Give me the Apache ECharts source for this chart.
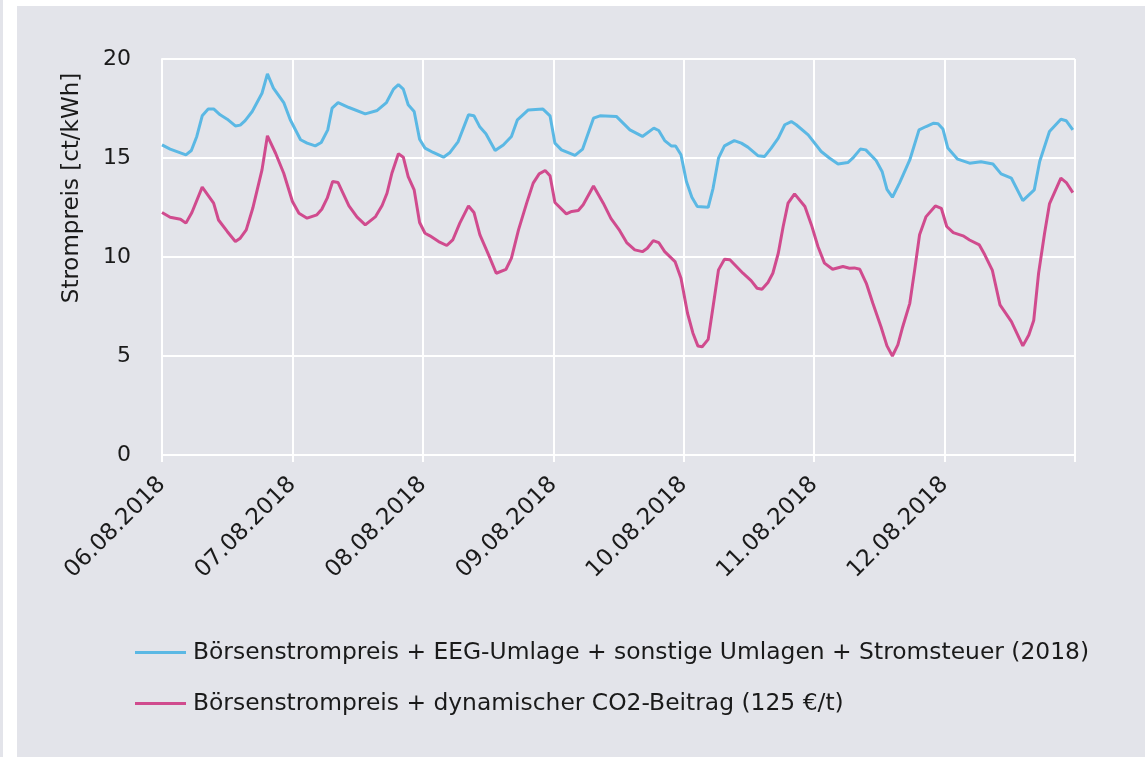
<!DOCTYPE html>
<html>
<head>
<meta charset="utf-8">
<script src="https://cdn.jsdelivr.net/npm/echarts@6/dist/echarts.min.js"></script>
<style>
html,body{margin:0;padding:0;background:#e3e4ea;}
#chart{width:1145px;height:757px;}
</style>
</head>
<body>
<div id="chart"></div>
<script>
// x-axis tick labels (one per day, hours from 06.08.2018 00:00)
const dayLabels = ['06.08.2018','07.08.2018','08.08.2018','09.08.2018','10.08.2018','11.08.2018','12.08.2018'];
const yTicks = [0, 5, 10, 15, 20];
const yAxisTitle = 'Strompreis [ct/kWh]';
const seriesNames = [
  'Börsenstrompreis + EEG-Umlage + sonstige Umlagen + Stromsteuer (2018)',
  'Börsenstrompreis + dynamischer CO2-Beitrag (125 €/t)'
];

// Series 1 (blue): hours since start, price ct/kWh
const blueHours = [0,1.5,4.4,5.4,6.4,7.4,8.5,9.5,10.7,12,13.5,14.4,15.3,16.6,18.4,19.4,20.5,22.4,23.6,25.5,26.7,28.2,29.3,30.5,31.3,32.4,34.4,37.4,39.6,41.3,42.6,43.5,44.4,45.3,46.4,47.4,48.4,49.9,51.8,53,54.5,56.4,57.4,58.5,59.6,61.3,62.8,64.3,65.4,67.4,70.1,71.4,72.3,73.5,76,77.4,79.4,80.6,83.6,86.1,88.4,90.5,91.4,92.5,93.7,94.5,95.5,96.5,97.5,98.5,100.5,101.4,102.4,103.5,105.3,106.6,107.8,109.7,110.9,112.1,113.4,114.6,115.8,116.7,118.9,121.3,122.8,124.4,126.2,127.1,128.5,129.5,131.4,132.5,133.4,134.4,135.7,137.6,139.3,140.6,142,142.8,143.7,144.6,146.4,148.6,150.7,152.9,154.4,156.3,158.4,160.5,161.5,163.3,165.4,166.4,167.6];
const blueValues = [15.66,15.45,15.16,15.38,16.09,17.13,17.47,17.48,17.18,16.96,16.62,16.66,16.89,17.35,18.27,19.25,18.53,17.8,16.93,15.92,15.75,15.61,15.78,16.42,17.52,17.8,17.55,17.23,17.4,17.8,18.48,18.7,18.48,17.69,17.35,15.95,15.5,15.28,15.04,15.28,15.83,17.18,17.13,16.56,16.22,15.38,15.66,16.09,16.93,17.43,17.47,17.13,15.75,15.41,15.13,15.45,17.01,17.13,17.1,16.42,16.09,16.51,16.39,15.88,15.61,15.61,15.16,13.81,13.02,12.55,12.51,13.47,14.99,15.61,15.88,15.75,15.55,15.11,15.08,15.5,16.0,16.68,16.84,16.68,16.17,15.33,15.0,14.7,14.77,14.99,15.45,15.41,14.87,14.32,13.42,13.02,13.73,14.9,16.42,16.59,16.76,16.73,16.46,15.5,14.94,14.74,14.81,14.7,14.2,13.98,12.85,13.39,14.82,16.34,16.96,16.88,16.42];

// Series 2 (magenta)
const pinkHours = [0,1.5,3.4,4.4,5.5,7.4,9.5,10.4,12,13.5,14.4,15.5,16.7,18.4,19.4,20.9,22.4,24,25.2,26.7,28.5,29.4,30.4,31.4,32.4,34.4,35.9,37.4,39.3,40.5,41.4,42.3,43.5,44.4,45.3,46.4,47.4,48.4,49.3,50.9,52.4,53.5,54.8,56.4,57.4,58.5,60.1,61.5,63.3,64.3,65.6,67.1,68.3,69.4,70.5,71.4,72.3,74.4,75.4,76.6,77.5,79.4,81.2,82.6,84.2,85.5,87,88.4,89.3,90.4,91.4,92.5,94.4,95.5,96.7,97.7,98.6,99.4,100.5,101.4,102.4,103.5,104.5,105.7,106.9,108.4,109.5,110.4,111.5,112.4,113.4,114.3,115.2,116.4,118.3,119.5,120.7,121.9,123.4,125.3,126.5,127.4,128.4,129.6,130.8,132.3,133.4,134.4,135.4,136.3,137.6,138.5,139.4,140.6,142.3,143.4,144.4,145.6,147.4,148.6,150.4,151.4,152.8,154.2,156.3,158.4,159.5,160.4,161.3,162.4,163.3,165.4,166.4,167.6];
const pinkValues = [12.25,12.01,11.91,11.71,12.25,13.53,12.72,11.87,11.29,10.78,10.95,11.37,12.46,14.4,16.12,15.24,14.23,12.8,12.21,11.96,12.13,12.41,12.97,13.81,13.76,12.58,12.01,11.62,12.04,12.6,13.22,14.23,15.21,15.04,14.06,13.39,11.74,11.2,11.07,10.78,10.58,10.86,11.71,12.58,12.25,11.12,10.11,9.18,9.38,9.94,11.37,12.72,13.73,14.2,14.37,14.1,12.75,12.18,12.3,12.35,12.64,13.59,12.72,11.95,11.34,10.73,10.36,10.27,10.44,10.83,10.73,10.27,9.77,8.93,7.16,6.15,5.51,5.47,5.84,7.49,9.35,9.89,9.86,9.52,9.18,8.81,8.42,8.37,8.71,9.18,10.19,11.54,12.72,13.19,12.55,11.62,10.53,9.69,9.38,9.52,9.43,9.45,9.38,8.67,7.66,6.48,5.51,5.0,5.56,6.48,7.66,9.35,11.12,12.04,12.58,12.46,11.54,11.23,11.07,10.86,10.61,10.11,9.32,7.58,6.74,5.51,6.06,6.79,9.18,11.2,12.68,13.98,13.76,13.25];

const pair = (hs, vs) => hs.map((h, i) => [h, vs[i]]);

const chart = echarts.init(document.getElementById('chart'), null, {renderer: 'canvas'});
const font = '"DejaVu Sans", sans-serif';
const txt = '#1a1a1a';
chart.setOption({
  backgroundColor: '#e3e4ea',
  animation: false,
  graphic: [
    {type: 'rect', shape: {x: 3, y: 0, width: 1142, height: 6}, style: {fill: '#ffffff'}, z: -1},
    {type: 'rect', shape: {x: 3, y: 0, width: 14, height: 757}, style: {fill: '#ffffff'}, z: -1},
    {type: 'text', x: 72, y: 188, rotation: Math.PI / 2,
     style: {text: yAxisTitle, fontFamily: font, fontSize: 23, fill: txt, align: 'center', verticalAlign: 'middle'}}
  ],
  grid: {left: 162, right: 70, top: 59, bottom: 302, containLabel: false},
  legend: {
    orient: 'vertical',
    left: 130,
    top: 636,
    itemWidth: 51,
    itemHeight: 3,
    itemGap: 28,
    icon: 'rect',
    textStyle: {fontFamily: font, fontSize: 23.4, color: txt, padding: [0, 0, 0, 2]},
    data: seriesNames
  },
  xAxis: {
    type: 'value',
    min: 0,
    max: 168,
    interval: 24,
    axisLine: {show: true, lineStyle: {color: '#ffffff', width: 2}},
    axisTick: {show: true, length: 7, lineStyle: {color: '#ffffff', width: 2}},
    splitLine: {show: true, lineStyle: {color: '#ffffff', width: 2}},
    axisLabel: {
      rotate: 45,
      margin: 26,
      fontFamily: font,
      fontSize: 23,
      color: txt,
      formatter: v => dayLabels[Math.round(v / 24)] || ''
    }
  },
  yAxis: {
    type: 'value',
    min: yTicks[0],
    max: yTicks[yTicks.length - 1],
    interval: 5,
    axisLine: {show: true, lineStyle: {color: '#ffffff', width: 2}},
    axisTick: {show: false},
    splitLine: {show: true, lineStyle: {color: '#ffffff', width: 2}},
    axisLabel: {fontFamily: font, fontSize: 22, color: txt, margin: 31}
  },
  series: [
    {
      name: seriesNames[0], type: 'line', data: pair(blueHours, blueValues),
      showSymbol: false, symbol: 'none',
      lineStyle: {color: '#5bb8e4', width: 3},
      itemStyle: {color: '#5bb8e4'}
    },
    {
      name: seriesNames[1], type: 'line', data: pair(pinkHours, pinkValues),
      showSymbol: false, symbol: 'none',
      lineStyle: {color: '#d04b8e', width: 3},
      itemStyle: {color: '#d04b8e'}
    }
  ]
});
</script>
</body>
</html>
